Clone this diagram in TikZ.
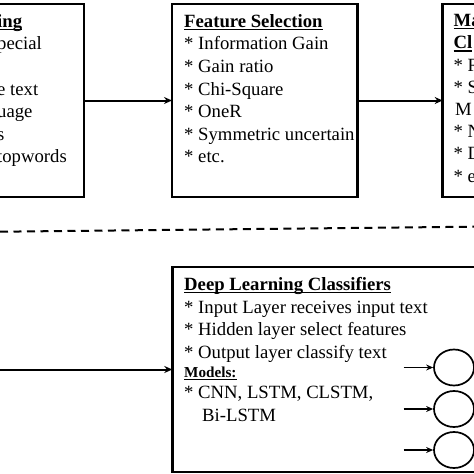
\documentclass[tikz,border=0pt]{standalone}
\usepackage{fontspec}
\setmainfont{Liberation Serif}
\usetikzlibrary{positioning,shapes.geometric}
\usetikzlibrary{arrows.meta}
\newcommand{\hd}[1]{{\setbox0\hbox{\textbf{#1}}\rlap{\rule[-2.6pt]{\wd0}{1.2pt}}\box0}}
\tikzset{
  frame/.style={draw, line width=2.5pt, inner sep=0pt, outer sep=0pt},
  txt/.style={anchor=base west, align=left, inner sep=0pt,
    font=\fontsize{18.7}{22.6}\selectfont},
  flow/.style={line width=2pt, -{Stealth[length=8pt,width=7pt]}},
  feed/.style={line width=1.7pt, -{Stealth[length=7pt,width=6pt]}},
  neuron/.style={draw, ellipse, line width=1.7pt, minimum width=40pt, minimum height=36pt, inner sep=0pt},
  sep/.style={line width=2pt, dash pattern=on 8pt off 5.5pt},
}

\begin{document}
\begin{tikzpicture}[x=1pt, y=-1pt]
    \useasboundingbox (0,0) rectangle (474,474);

    % coordinates to be reused
    \coordinate (dl) at (0,231.7);
    \coordinate (dr) at (474,226.7);
    \coordinate (prevout) at (-10,369.5);

    % draw boxes
    \node [frame, minimum width=210pt, minimum height=193pt, anchor=north east] (prep) at (84,4) {};
    \node [frame, minimum width=185.5pt, minimum height=193pt, anchor=north west] (featsel) at (172,4) {};
    \node [frame, minimum width=200pt, minimum height=193pt, anchor=north west] (mlclf) at (442.7,4) {};
    \node [frame, minimum width=400pt, minimum height=205pt, anchor=north west] (dlclf) at (172.3,267) {};

    % add texts (anchored at the baseline of the last line)
    \node [txt] (preptxt) at (-3,162.9) {\hd{ing}\\pecial\\ \\e text\\uage\\s\\topwords};
    \node [txt] (fstxt) at (184,162.9) {\hd{Feature Selection}\\* Information Gain\\* Gain ratio\\* Chi-Square\\* OneR\\* Symmetric uncertain\\* etc.};
    \node [txt, font=\fontsize{18.7}{22.2}\selectfont] (mltxt) at (453.5,182.1) {\hd{Ma}\\\hd{Cl}\\* R\\* S\\\hspace{1.5pt}M\\* N\\* D\\* e};
    \node [txt] (dltxt) at (184,421) {\hd{Deep Learning Classifiers}\\* Input Layer receives input text\\* Hidden layer select features\\* Output layer classify text\\[-3.3pt]{\fontsize{15.2}{18}\selectfont\hd{Models:}}\\[-1.9pt]* CNN, LSTM, CLSTM,\\\hspace{18pt}Bi-LSTM};

    % connectors
    \draw [flow] (prep.east) -- (featsel.west);
    \draw [flow] (featsel.east) -- (mlclf.west);
    \draw [flow] (prevout) -- (dlclf.west);
    \draw [sep] (dl) -- (dr);

    % input neurons
    \foreach \i/\yy in {1/367.5, 2/409, 3/450} {
      \node [neuron] (n\i) at (454,\yy) {};
      \coordinate (s\i) at (403.7,\yy);
      \draw [feed] (s\i) -- (n\i.west);
    }
\end{tikzpicture}
\end{document}
